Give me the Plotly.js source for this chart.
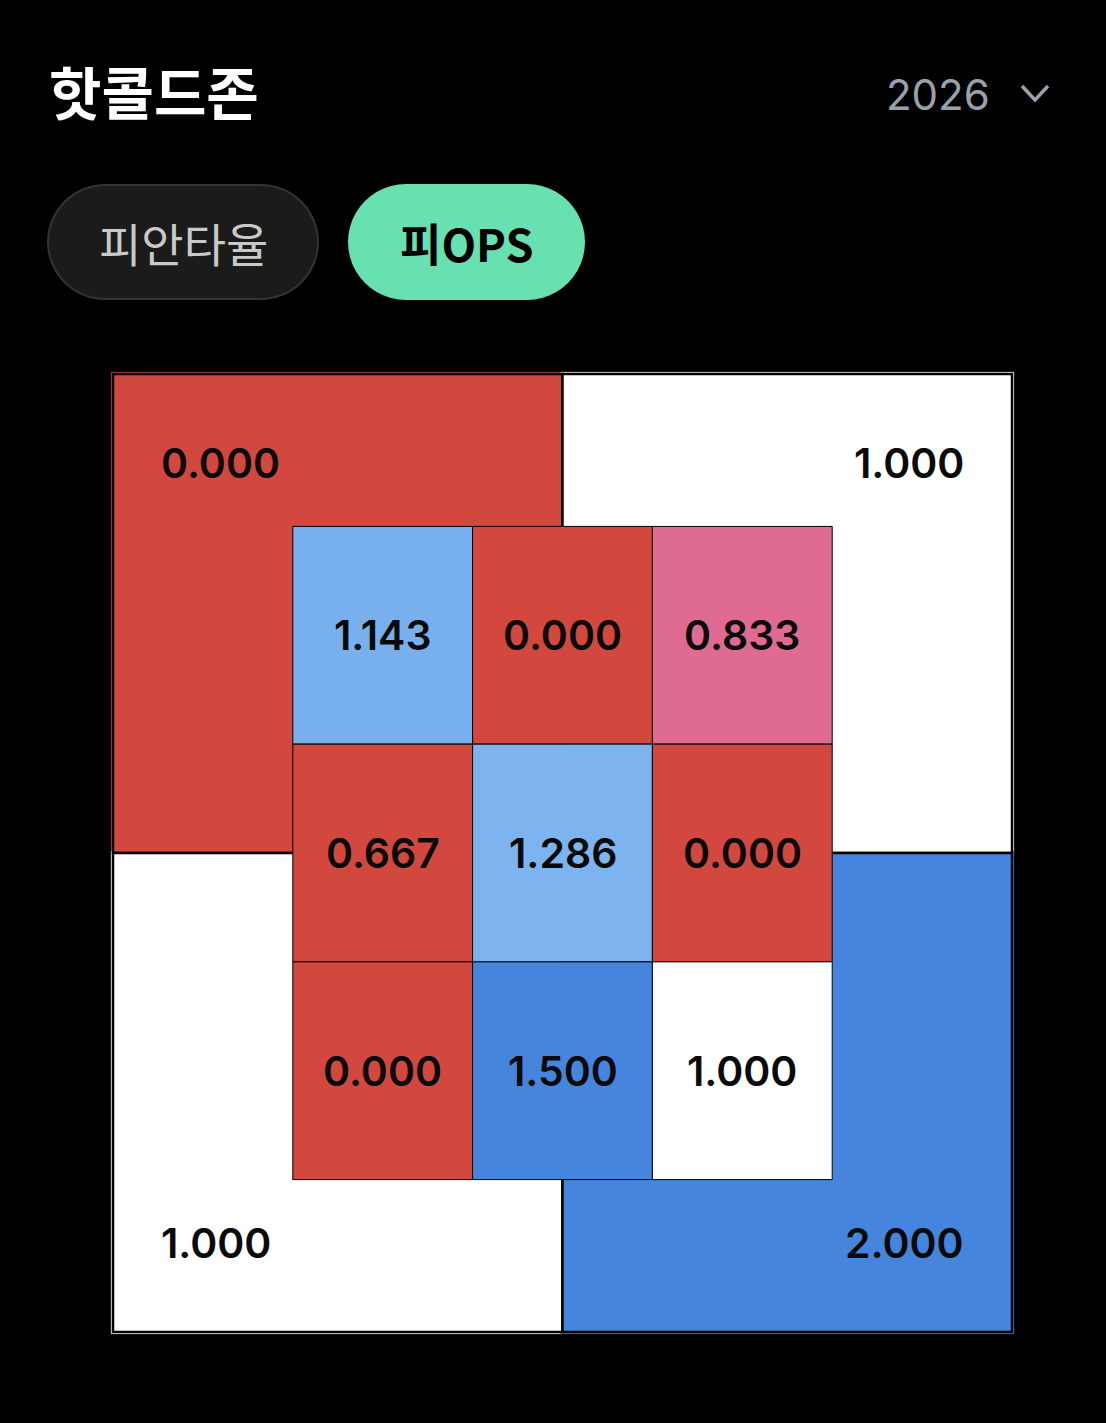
<!DOCTYPE html>
<html>
<head>
<meta charset="utf-8">
<script src="https://cdn.plot.ly/plotly-3.0.1.min.js"></script>
<style>
html,body{margin:0;padding:0;background:#000;}
#chart{width:1106px;height:1423px;}
</style>
</head>
<body>
<div id="chart"></div>
<script>
// ---- data ----
const titleText = '핫콜드존';
const yearLabel = '2026';
const tabLabels = ['피안타율', '피OPS'];
const activeTab = 1;
// inner strike-zone grid, rows top to bottom, cols left to right
const innerRow1 = [1.143, 0.000, 0.833];
const innerRow2 = [0.667, 1.286, 0.000];
const innerRow3 = [0.000, 1.500, 1.000];
const innerValues = [innerRow1, innerRow2, innerRow3];
// outer zones: top-left, top-right, bottom-left, bottom-right
const outerNames = ['TL', 'TR', 'BL', 'BR'];
const outerValues = [0.000, 1.000, 1.000, 2.000];

// ---- styling helpers ----
function zoneColor(v) {
  if (v < 0.75) return '#D2483F';
  if (v < 0.95) return '#E06B92';
  if (v < 1.05) return '#FFFFFF';
  if (v < 1.2) return '#78B0EE';
  if (v < 1.4) return '#7DB4F0';
  return '#4585DD';
}
const fmt = v => v.toFixed(3);

const W = 1106, H = 1423;
const ml = 103, mr = 84, mt = 364, mb = 81;
const px2x = px => (px - ml) / (W - ml - mr);
const py2y = py => 1 - (py - mt) / (H - mt - mb);

const XO = 2.5, YO = 2.2;          // outer half extents (axis units)
const xPad = 10 / 179.8, yPad = 10 / 217.7;
const dx = 1.6 / 179.8, dy = 1.6 / 217.7;

const shapes = [];
const annotations = [];
const valFont = {family: 'Inter, "Noto Sans", sans-serif', size: 41, color: '#0A0A0A', weight: 600};

// outer quadrants
const qBounds = {
  TL: [-XO, 0, 0, YO], TR: [0, XO, 0, YO],
  BL: [-XO, 0, -YO, 0], BR: [0, XO, -YO, 0]
};
outerNames.forEach((n, i) => {
  const b = qBounds[n], c = zoneColor(outerValues[i]);
  shapes.push({type: 'rect', xref: 'x', yref: 'y', x0: b[0] - dx, x1: b[1] + dx, y0: b[2] - dy, y1: b[3] + dy,
    fillcolor: c, line: {color: c, width: 1}, layer: 'above'});
});
outerNames.forEach((n, i) => {
  const b = qBounds[n], c = zoneColor(outerValues[i]);
  shapes.push({type: 'rect', xref: 'x', yref: 'y', x0: b[0], x1: b[1], y0: b[2], y1: b[3],
    fillcolor: c, line: {color: '#000000', width: 2.5}, layer: 'above'});
  const left = b[0] < 0, top = b[3] > 0;
  annotations.push({xref: 'x', yref: 'y', x: left ? -XO + 0.255 : XO - 0.255, y: top ? 1.79 : -1.79,
    xanchor: left ? 'left' : 'right', yanchor: 'middle', text: fmt(outerValues[i]), showarrow: false, font: valFont});
});

// inner grid
innerValues.forEach((row, r) => {
  row.forEach((v, c) => {
    const x0 = -1.5 + c, y1 = 1.5 - r;
    shapes.push({type: 'rect', xref: 'x', yref: 'y', x0: x0, x1: x0 + 1, y0: y1 - 1, y1: y1,
      fillcolor: zoneColor(v), line: {color: '#000000', width: 1}, layer: 'above'});
    annotations.push({xref: 'x', yref: 'y', x: x0 + 0.5, y: y1 - 0.5, xanchor: 'center', yanchor: 'middle',
      text: fmt(v), showarrow: false, font: valFont});
  });
});

// header
annotations.push({xref: 'paper', yref: 'paper', x: px2x(47), y: py2y(90), xanchor: 'left', yanchor: 'middle',
  text: titleText, showarrow: false,
  font: {family: '"Noto Sans CJK KR", sans-serif', size: 57, color: '#FFFFFF', weight: 700}});
annotations.push({xref: 'paper', yref: 'paper', x: px2x(992), y: py2y(94), xanchor: 'right', yanchor: 'middle',
  text: yearLabel, showarrow: false,
  font: {family: 'Inter, "Noto Sans", sans-serif', size: 42, color: '#9AA0AB', weight: 400}});
shapes.push({type: 'path', xref: 'paper', yref: 'paper', layer: 'above',
  path: `M ${px2x(1022)} ${py2y(86)} L ${px2x(1035)} ${py2y(100)} L ${px2x(1048)} ${py2y(86)}`,
  line: {color: '#9AA0AB', width: 3.5}});

// tabs (pills)
function pill(x0, x1, y0, y1) {
  const r = (y1 - y0) / 2;
  const pts = [];
  const steps = 24;
  for (let i = 0; i <= steps; i++) { // right arc
    const a = -Math.PI / 2 + Math.PI * i / steps;
    pts.push([x1 - r + r * Math.cos(a), y0 + r + r * Math.sin(a)]);
  }
  for (let i = 0; i <= steps; i++) { // left arc
    const a = Math.PI / 2 + Math.PI * i / steps;
    pts.push([x0 + r + r * Math.cos(a), y0 + r + r * Math.sin(a)]);
  }
  return 'M ' + pts.map(p => px2x(p[0]) + ' ' + py2y(p[1])).join(' L ') + ' Z';
}
const pillBox = [[48, 318], [349, 584]];
tabLabels.forEach((t, i) => {
  const [a, b] = pillBox[i];
  const on = i === activeTab;
  shapes.push({type: 'path', xref: 'paper', yref: 'paper', layer: 'above', path: pill(a, b, 185, 299),
    fillcolor: on ? '#68E0B0' : '#1B1B1B', line: {color: on ? '#68E0B0' : '#343434', width: 2}});
  annotations.push({xref: 'paper', yref: 'paper', x: px2x((a + b) / 2), y: py2y(242), xanchor: 'center', yanchor: 'middle',
    text: t, showarrow: false,
    font: {family: '"Noto Sans CJK KR", sans-serif', size: on ? 45 : 46, color: on ? '#000000' : '#C9C9C9', weight: on ? 600 : 400}});
});

const layout = {
  width: W, height: H,
  margin: {l: ml, r: mr, t: mt, b: mb, pad: 0},
  paper_bgcolor: '#000000', plot_bgcolor: '#000000',
  showlegend: false,
  xaxis: {range: [-XO - xPad, XO + xPad], visible: false, fixedrange: true},
  yaxis: {range: [-YO - yPad, YO + yPad], visible: false, fixedrange: true},
  shapes: shapes,
  annotations: annotations,
  hovermode: false
};
const traces = [{type: 'scatter', x: [-XO, XO], y: [-YO, YO], mode: 'markers', marker: {opacity: 0}, hoverinfo: 'skip'}];
Plotly.newPlot('chart', traces, layout, {displayModeBar: false, staticPlot: true});
</script>
</body>
</html>
